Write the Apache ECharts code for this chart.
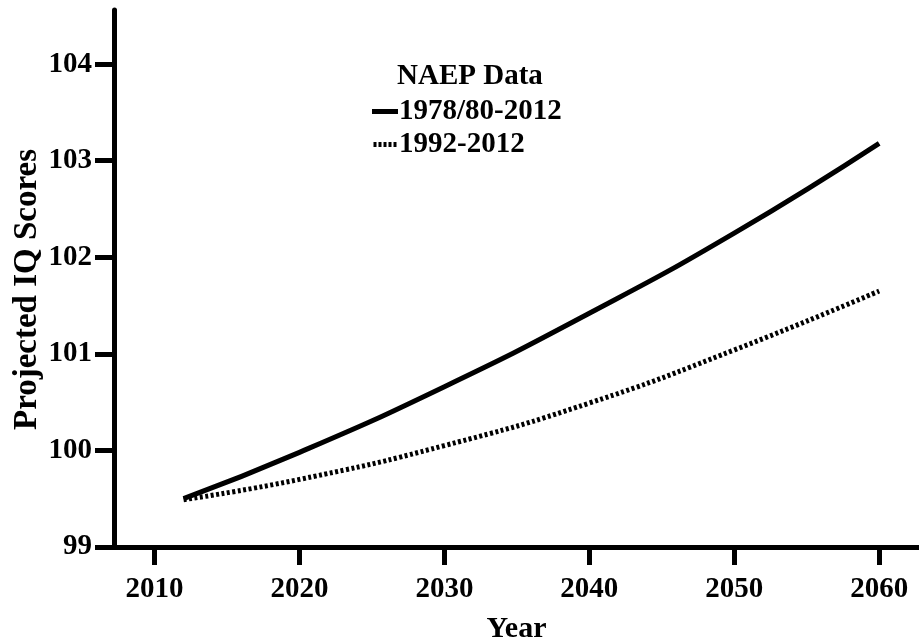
<!DOCTYPE html>
<html>
<head>
<meta charset="utf-8">
<script src="https://cdn.jsdelivr.net/npm/echarts@6/dist/echarts.min.js"></script>
<style>
  html, body { margin: 0; padding: 0; background: #fff; }
  #chart { width: 919px; height: 638px; }
</style>
</head>
<body>
<div id="chart"></div>
<script>
// 数据
const years = [2012, 2020, 2030, 2040, 2050, 2060];
const naep1978 = [99.5, 99.98, 100.66, 101.42, 102.25, 103.18];
const naep1992 = [99.49, 99.70, 100.05, 100.49, 101.04, 101.65];
const xTicks = [2010, 2020, 2030, 2040, 2050, 2060];
const yTicks = [99, 100, 101, 102, 103, 104];

const font = 'Liberation Serif';
const pair = (xs, ys) => xs.map((x, i) => [x, ys[i]]);
const dotIcon = 'path://M0,0h3v5h-3z M5,0h3v5h-3z M10,0h3v5h-3z M15,0h3v5h-3z M20,0h3v5h-3z';

const chart = echarts.init(document.getElementById('chart'));
chart.setOption({
    animation: false,
    title: {
        text: 'NAEP Data',
        left: 397,
        top: 62,
        textStyle: { fontFamily: font, fontWeight: 'bold', fontSize: 29, color: '#000' },
        padding: 0
    },
    legend: {
        orient: 'vertical',
        left: 372,
        top: 97,
        itemWidth: 26,
        itemHeight: 5,
        itemGap: 4,
        padding: 0,
        textStyle: { fontFamily: font, fontWeight: 'bold', fontSize: 29, color: '#000', padding: [0, 0, 0, -4] },
        data: [
            { name: '1978/80-2012', icon: 'rect', itemStyle: { color: '#000' } },
            { name: '1992-2012', icon: dotIcon, itemStyle: { color: '#000' } }
        ]
    },
    grid: { left: 114, right: 0, top: 10, bottom: 91, containLabel: false, outerBoundsMode: 'none' },
    xAxis: {
        type: 'value',
        min: 2007.2,
        max: 2062.75,
        name: 'Year',
        nameLocation: 'middle',
        nameGap: 67,
        nameTextStyle: { fontFamily: font, fontWeight: 'bold', fontSize: 30, color: '#000' },
        axisLine: { show: true, lineStyle: { color: '#000', width: 5 } },
        axisTick: { show: true, length: 18, lineStyle: { color: '#000', width: 5 }, customValues: xTicks },
        axisLabel: {
            fontFamily: font, fontWeight: 'bold', fontSize: 29, color: '#000', margin: 28,
            customValues: xTicks,
            formatter: (v) => String(v)
        },
        splitLine: { show: false }
    },
    yAxis: {
        type: 'value',
        min: 99,
        max: 104.56,
        name: 'Projected IQ Scores',
        nameLocation: 'middle',
        nameGap: 70,
        nameMoveOverlap: false,
        nameTextStyle: { fontFamily: font, fontWeight: 'bold', fontSize: 33, color: '#000', padding: [0, 0, 0, -22] },
        axisLine: { show: true, lineStyle: { color: '#000', width: 5 } },
        axisTick: { show: true, length: 19, lineStyle: { color: '#000', width: 5 }, customValues: yTicks },
        axisLabel: { fontFamily: font, fontWeight: 'bold', fontSize: 29, color: '#000', margin: 22, customValues: yTicks },
        splitLine: { show: false }
    },
    series: [
        {
            name: '1978/80-2012',
            type: 'line',
            smooth: true,
            showSymbol: false,
            data: pair(years, naep1978),
            lineStyle: { color: '#000', width: 5 },
            itemStyle: { color: '#000' }
        },
        {
            name: '1992-2012',
            type: 'line',
            smooth: true,
            showSymbol: false,
            data: pair(years, naep1992),
            lineStyle: { color: '#000', width: 5, type: [3, 2.5] },
            itemStyle: { color: '#000' }
        }
    ]
});
</script>
</body>
</html>
